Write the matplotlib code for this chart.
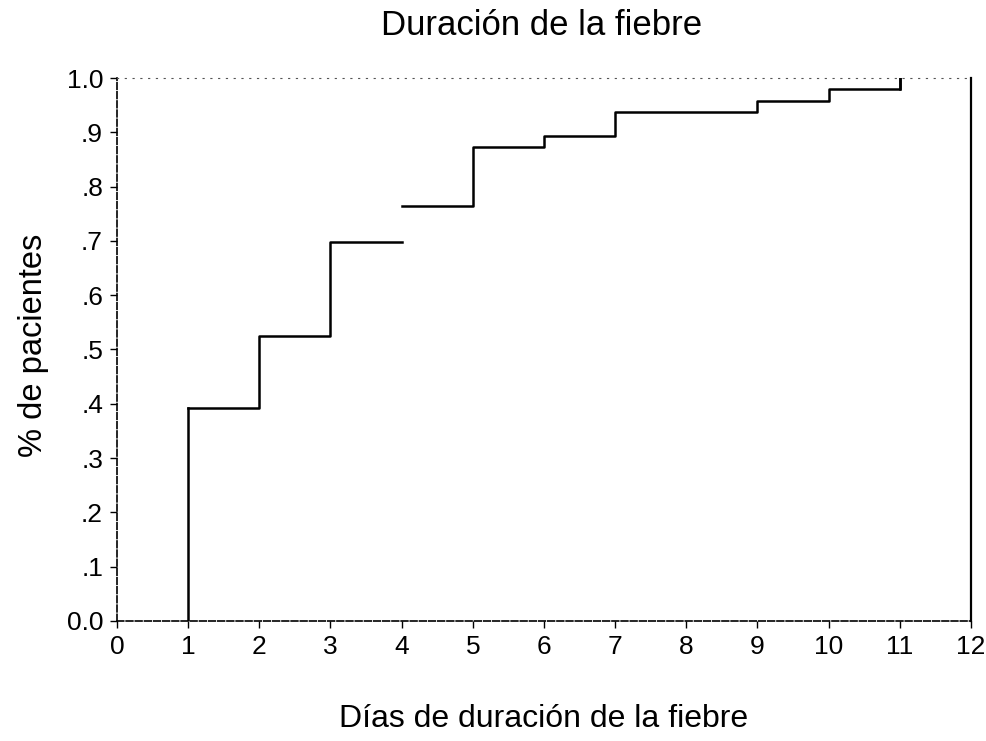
import matplotlib
matplotlib.use("Agg")
import matplotlib.pyplot as plt

days = [0, 1, 2, 3, 4]
cum_a = [0.0, 0.393, 0.525, 0.698, 0.698]
days_b = [4, 5, 6, 7, 9, 10, 11]
cum_b = [0.765, 0.873, 0.893, 0.937, 0.958, 0.98, 1.0]
xticks = list(range(0, 13))
yticks = [0.0, 0.1, 0.2, 0.3, 0.4, 0.5, 0.6, 0.7, 0.8, 0.9, 1.0]
ylabels = ["0.0", ".1", ".2", ".3", ".4", ".5", ".6", ".7", ".8", ".9", "1.0"]

plt.rcParams['font.family'] = ['Liberation Sans', 'DejaVu Sans']
fig = plt.figure(figsize=(9.87, 7.41), dpi=100)
ax = fig.add_axes([0.1185, 0.162, 0.8653, 0.7327])

ax.step(days[1:], cum_a[1:], where='post', color='black', lw=1.8)
ax.plot([1, 1], [0, cum_a[1]], color='black', lw=1.8)
ax.step(days_b, cum_b, where='post', color='black', lw=1.8)
ax.plot([11, 11], [cum_b[-2], cum_b[-1]], color='black', lw=1.8)

ax.set_xlim(0, 12)
ax.set_ylim(0, 1.0)
ax.set_xticks(xticks)
ax.set_xticklabels([str(t) for t in xticks], fontsize=19)
ax.set_yticks(yticks)
ax.set_yticklabels(ylabels, fontsize=19)
ax.tick_params(direction='out', length=5, width=1, pad=5)

for s in ['left', 'bottom']:
    ax.spines[s].set_linewidth(1.2)
    ax.spines[s].set_linestyle((0, (4, 1.5)))
ax.spines['right'].set_linewidth(1.6)
ax.spines['top'].set_linewidth(0.8)
ax.spines['top'].set_linestyle((0, (1, 6)))
ax.spines['top'].set_color('#555555')

fig.text(0.549, 0.966, "Duración de la fiebre", ha='center', va='center', fontsize=25)
fig.text(0.551, 0.030, "Días de duración de la fiebre", ha='center', va='center', fontsize=23)
fig.text(0.034, 0.534, "% de pacientes", ha='center', va='center', rotation=90, fontsize=23.5)

fig.savefig("out.png", dpi=100)
